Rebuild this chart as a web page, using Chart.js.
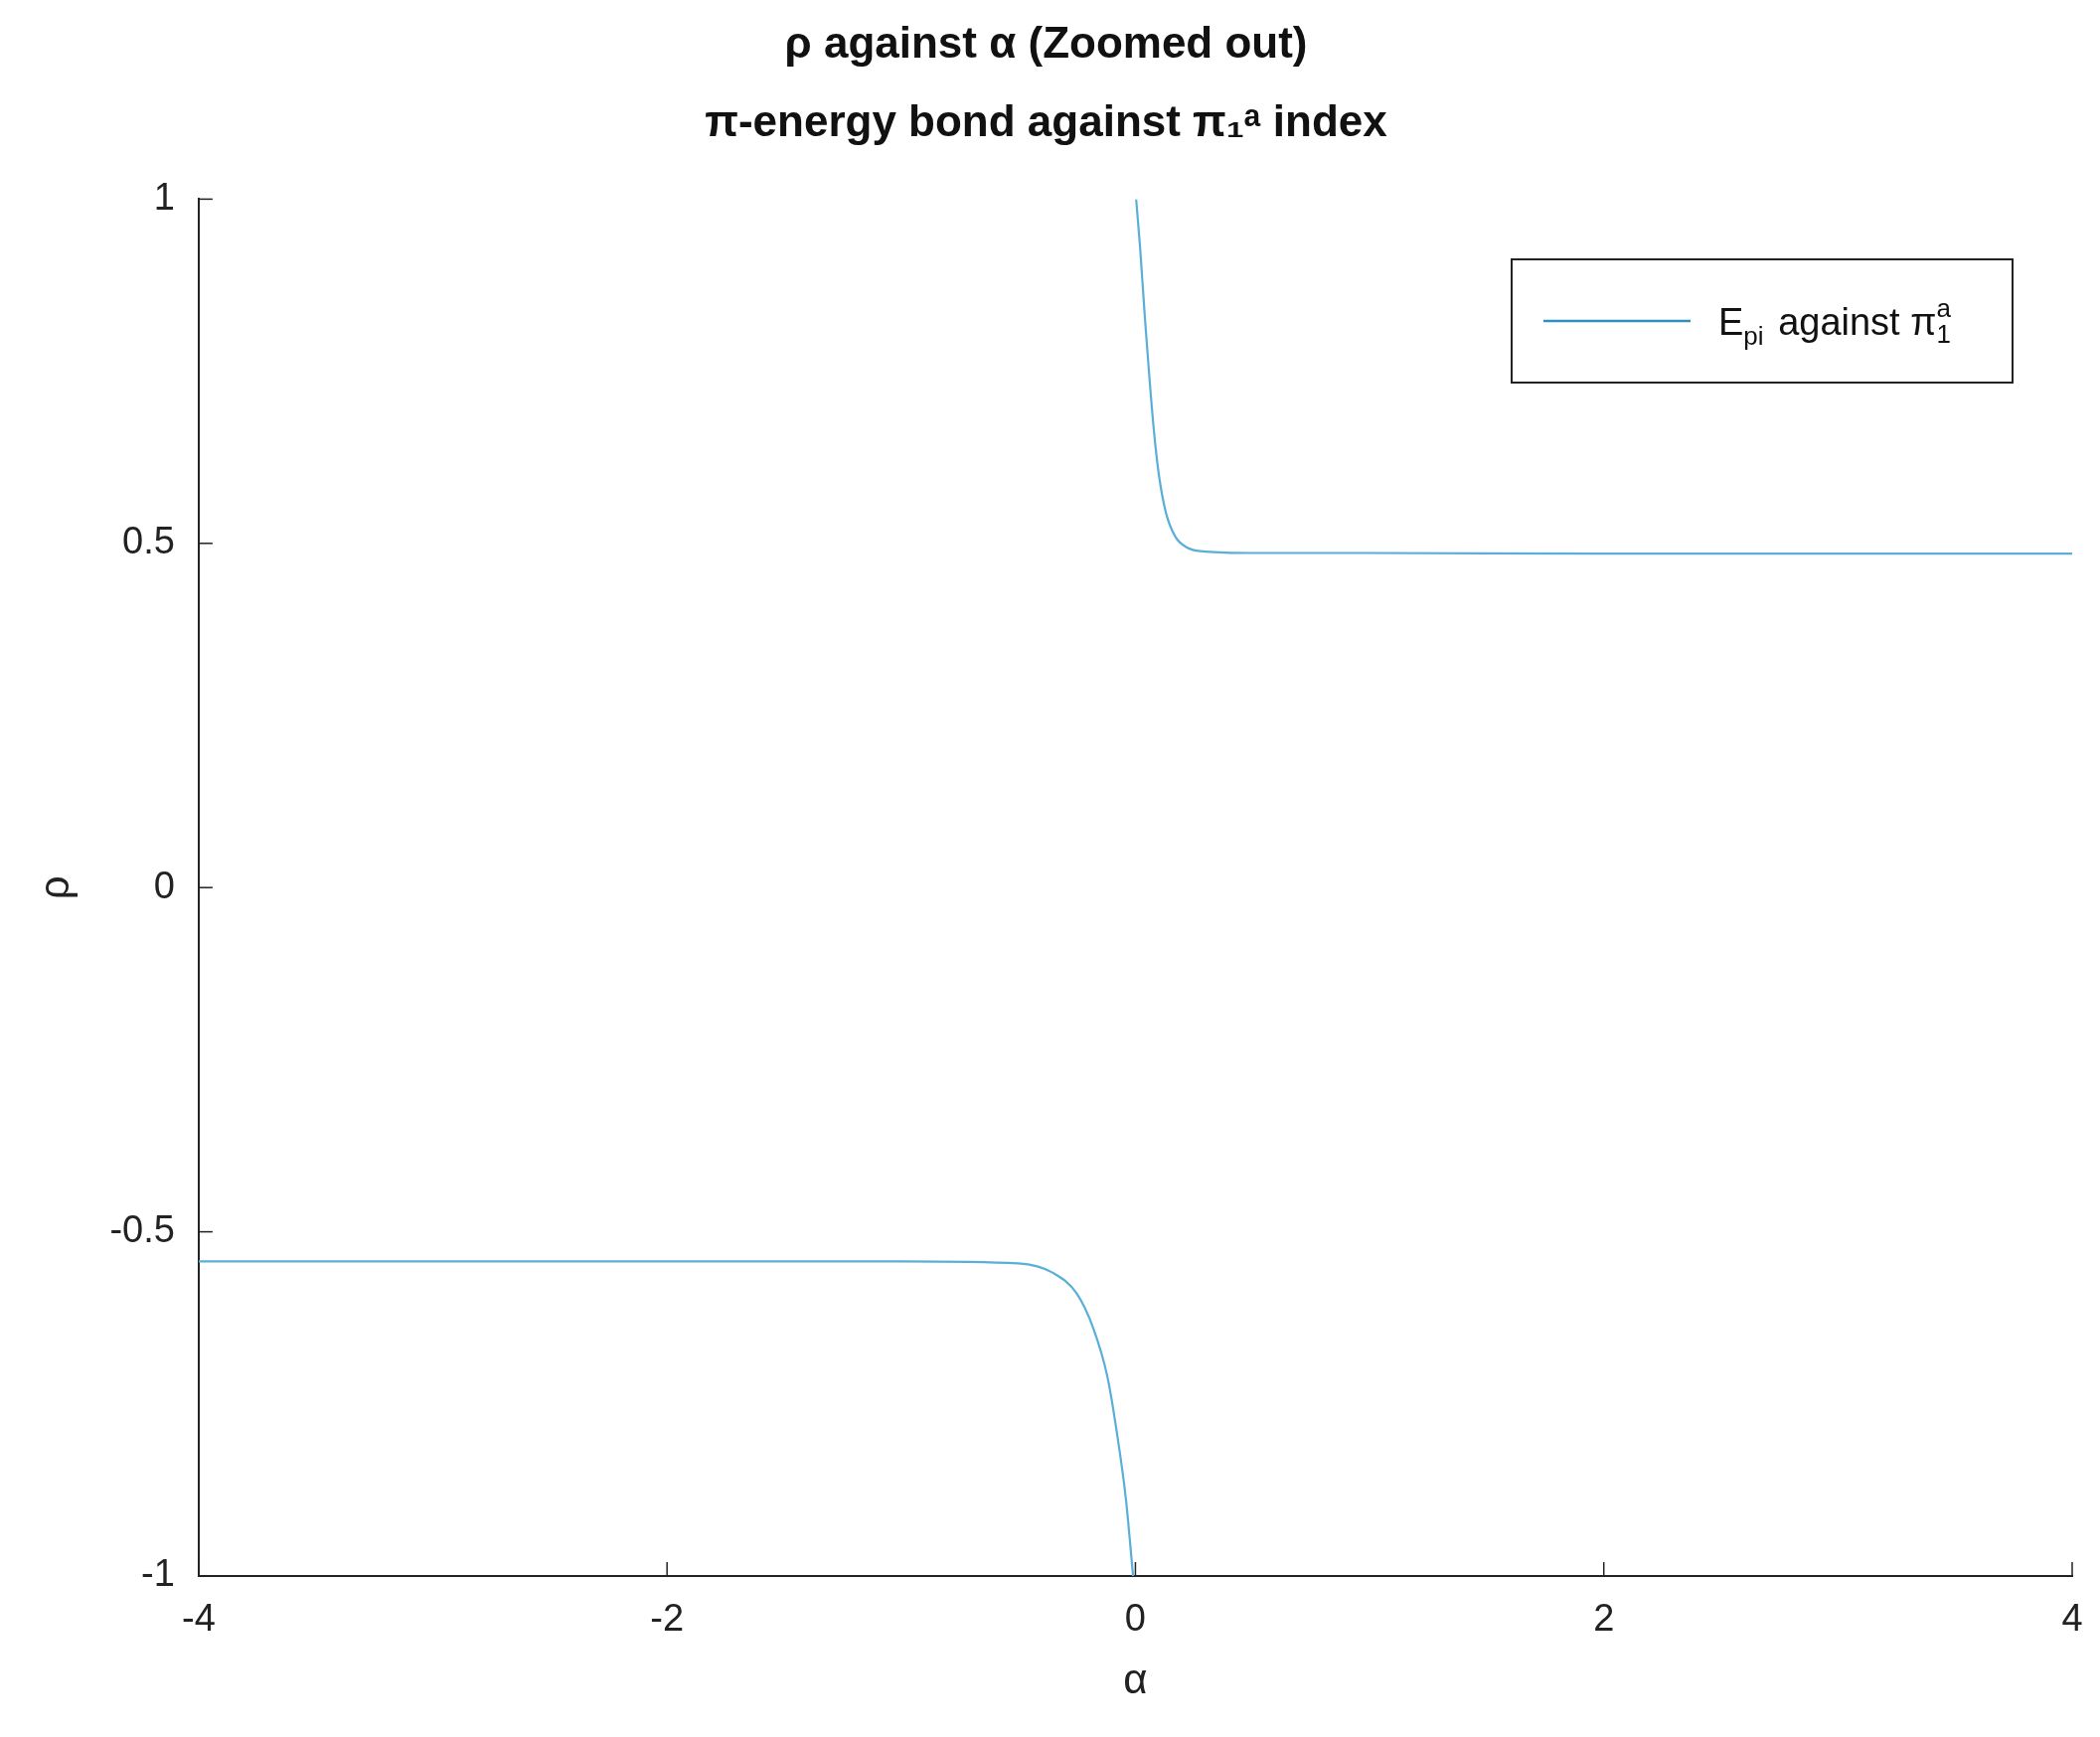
<!DOCTYPE html>
<html>
<head>
<meta charset="utf-8">
<script src="https://cdn.jsdelivr.net/npm/chart.js@4"></script>
<style>
  html, body { margin: 0; padding: 0; background: #fff; }
  #wrap { width: 2113px; height: 1748px; }
</style>
</head>
<body>
<div id="wrap"><canvas id="myChart"></canvas></div>
<script>
// values
const alphaRight = [0.003, 0.02, 0.04, 0.06, 0.08, 0.1, 0.13, 0.17, 0.22, 0.3, 0.5, 1, 2, 3, 4];
const rhoRight = [1, 0.93, 0.83, 0.74, 0.66, 0.6, 0.545, 0.51, 0.494, 0.488, 0.486, 0.486, 0.485, 0.485, 0.485];
const alphaLeft = [-4, -3, -2, -1, -0.5, -0.35, -0.25, -0.18, -0.12, -0.08, -0.04, -0.01];
const rhoLeft = [-0.543, -0.543, -0.543, -0.543, -0.546, -0.56, -0.59, -0.64, -0.71, -0.79, -0.89, -1];
const xTicks = [-4, -2, 0, 2, 4];
const yTicks = [-1, -0.5, 0, 0.5, 1];

const FONT = "'Liberation Sans', Arial, sans-serif";
const lineColor = "#5aafd8";

const points = [];
alphaLeft.forEach((a, i) => points.push({ x: a, y: rhoLeft[i] }));
points.push({ x: 0, y: null });
alphaRight.forEach((a, i) => points.push({ x: a, y: rhoRight[i] }));

const tickMarks = {
  id: "tickMarks",
  afterDraw(chart) {
    const c = chart.ctx, xs = chart.scales.x, ys = chart.scales.y, area = chart.chartArea;
    c.save();
    c.strokeStyle = "#222";
    c.lineWidth = 1.5;
    xTicks.forEach(v => {
      const px = xs.getPixelForValue(v);
      c.beginPath(); c.moveTo(px, area.bottom); c.lineTo(px, area.bottom - 14); c.stroke();
    });
    yTicks.forEach(v => {
      const py = ys.getPixelForValue(v);
      c.beginPath(); c.moveTo(area.left, py); c.lineTo(area.left + 14, py); c.stroke();
    });
    // legend box
    const bx = 1521, by = 261, bw = 504, bh = 124;
    c.fillStyle = "#fff";
    c.fillRect(bx, by, bw, bh);
    c.strokeStyle = "#222";
    c.lineWidth = 2;
    c.strokeRect(bx, by, bw, bh);
    c.strokeStyle = "#2f8fbf";
    c.lineWidth = 2.5;
    c.beginPath(); c.moveTo(bx + 32, by + 62); c.lineTo(bx + 180, by + 62); c.stroke();
    c.fillStyle = "#111";
    c.textBaseline = "alphabetic";
    let tx = bx + 208, base = by + 76;
    c.font = "38px " + FONT;
    c.fillText("E", tx, base); tx += c.measureText("E").width;
    c.font = "26px " + FONT;
    c.fillText("pi", tx, base + 10); tx += c.measureText("pi").width + 4;
    c.font = "38px " + FONT;
    c.fillText(" against π", tx, base); tx += c.measureText(" against π").width;
    c.font = "26px " + FONT;
    c.fillText("a", tx, base - 18);
    c.fillText("1", tx, base + 8);
    c.restore();
  }
};

new Chart(document.getElementById("myChart"), {
  type: "line",
  data: {
    datasets: [
      {
        label: "E_pi against π_1^a",
        data: points,
        borderColor: lineColor,
        borderWidth: 2.2,
        pointRadius: 0,
        cubicInterpolationMode: "monotone",
        spanGaps: false,
      },
    ],
  },
  options: {
    responsive: true,
    maintainAspectRatio: false,
    animation: false,
    layout: { padding: { left: 20, right: 28, top: 6, bottom: 30 } },
    plugins: {
      legend: { display: false },
      tooltip: { enabled: false },
      title: {
        display: true,
        text: ["ρ against α (Zoomed out)", "π-energy bond against π₁ᵃ index"],
        color: "#111",
        font: { family: FONT, size: 44, weight: "bold", lineHeight: 1.8 },
        padding: { top: 0, bottom: 36 },
      },
    },
    scales: {
      x: {
        type: "linear",
        min: -4,
        max: 4,
        afterBuildTicks: s => { s.ticks = xTicks.map(v => ({ value: v })); },
        grid: { display: false },
        border: { color: "#222", width: 2 },
        ticks: { color: "#222", font: { family: FONT, size: 38 }, padding: 14, callback: v => String(v) },
        title: { display: true, text: "α", color: "#222", font: { family: FONT, size: 42 }, padding: 0 },
      },
      y: {
        min: -1,
        max: 1,
        afterBuildTicks: s => { s.ticks = yTicks.map(v => ({ value: v })); },
        grid: { display: false },
        border: { color: "#222", width: 2 },
        ticks: { color: "#222", font: { family: FONT, size: 38 }, padding: 16, callback: v => String(v) },
        title: { display: true, text: "ρ", color: "#222", font: { family: FONT, size: 42 }, padding: 12 },
      },
    },
  },
  plugins: [tickMarks],
});
</script>
</body>
</html>
